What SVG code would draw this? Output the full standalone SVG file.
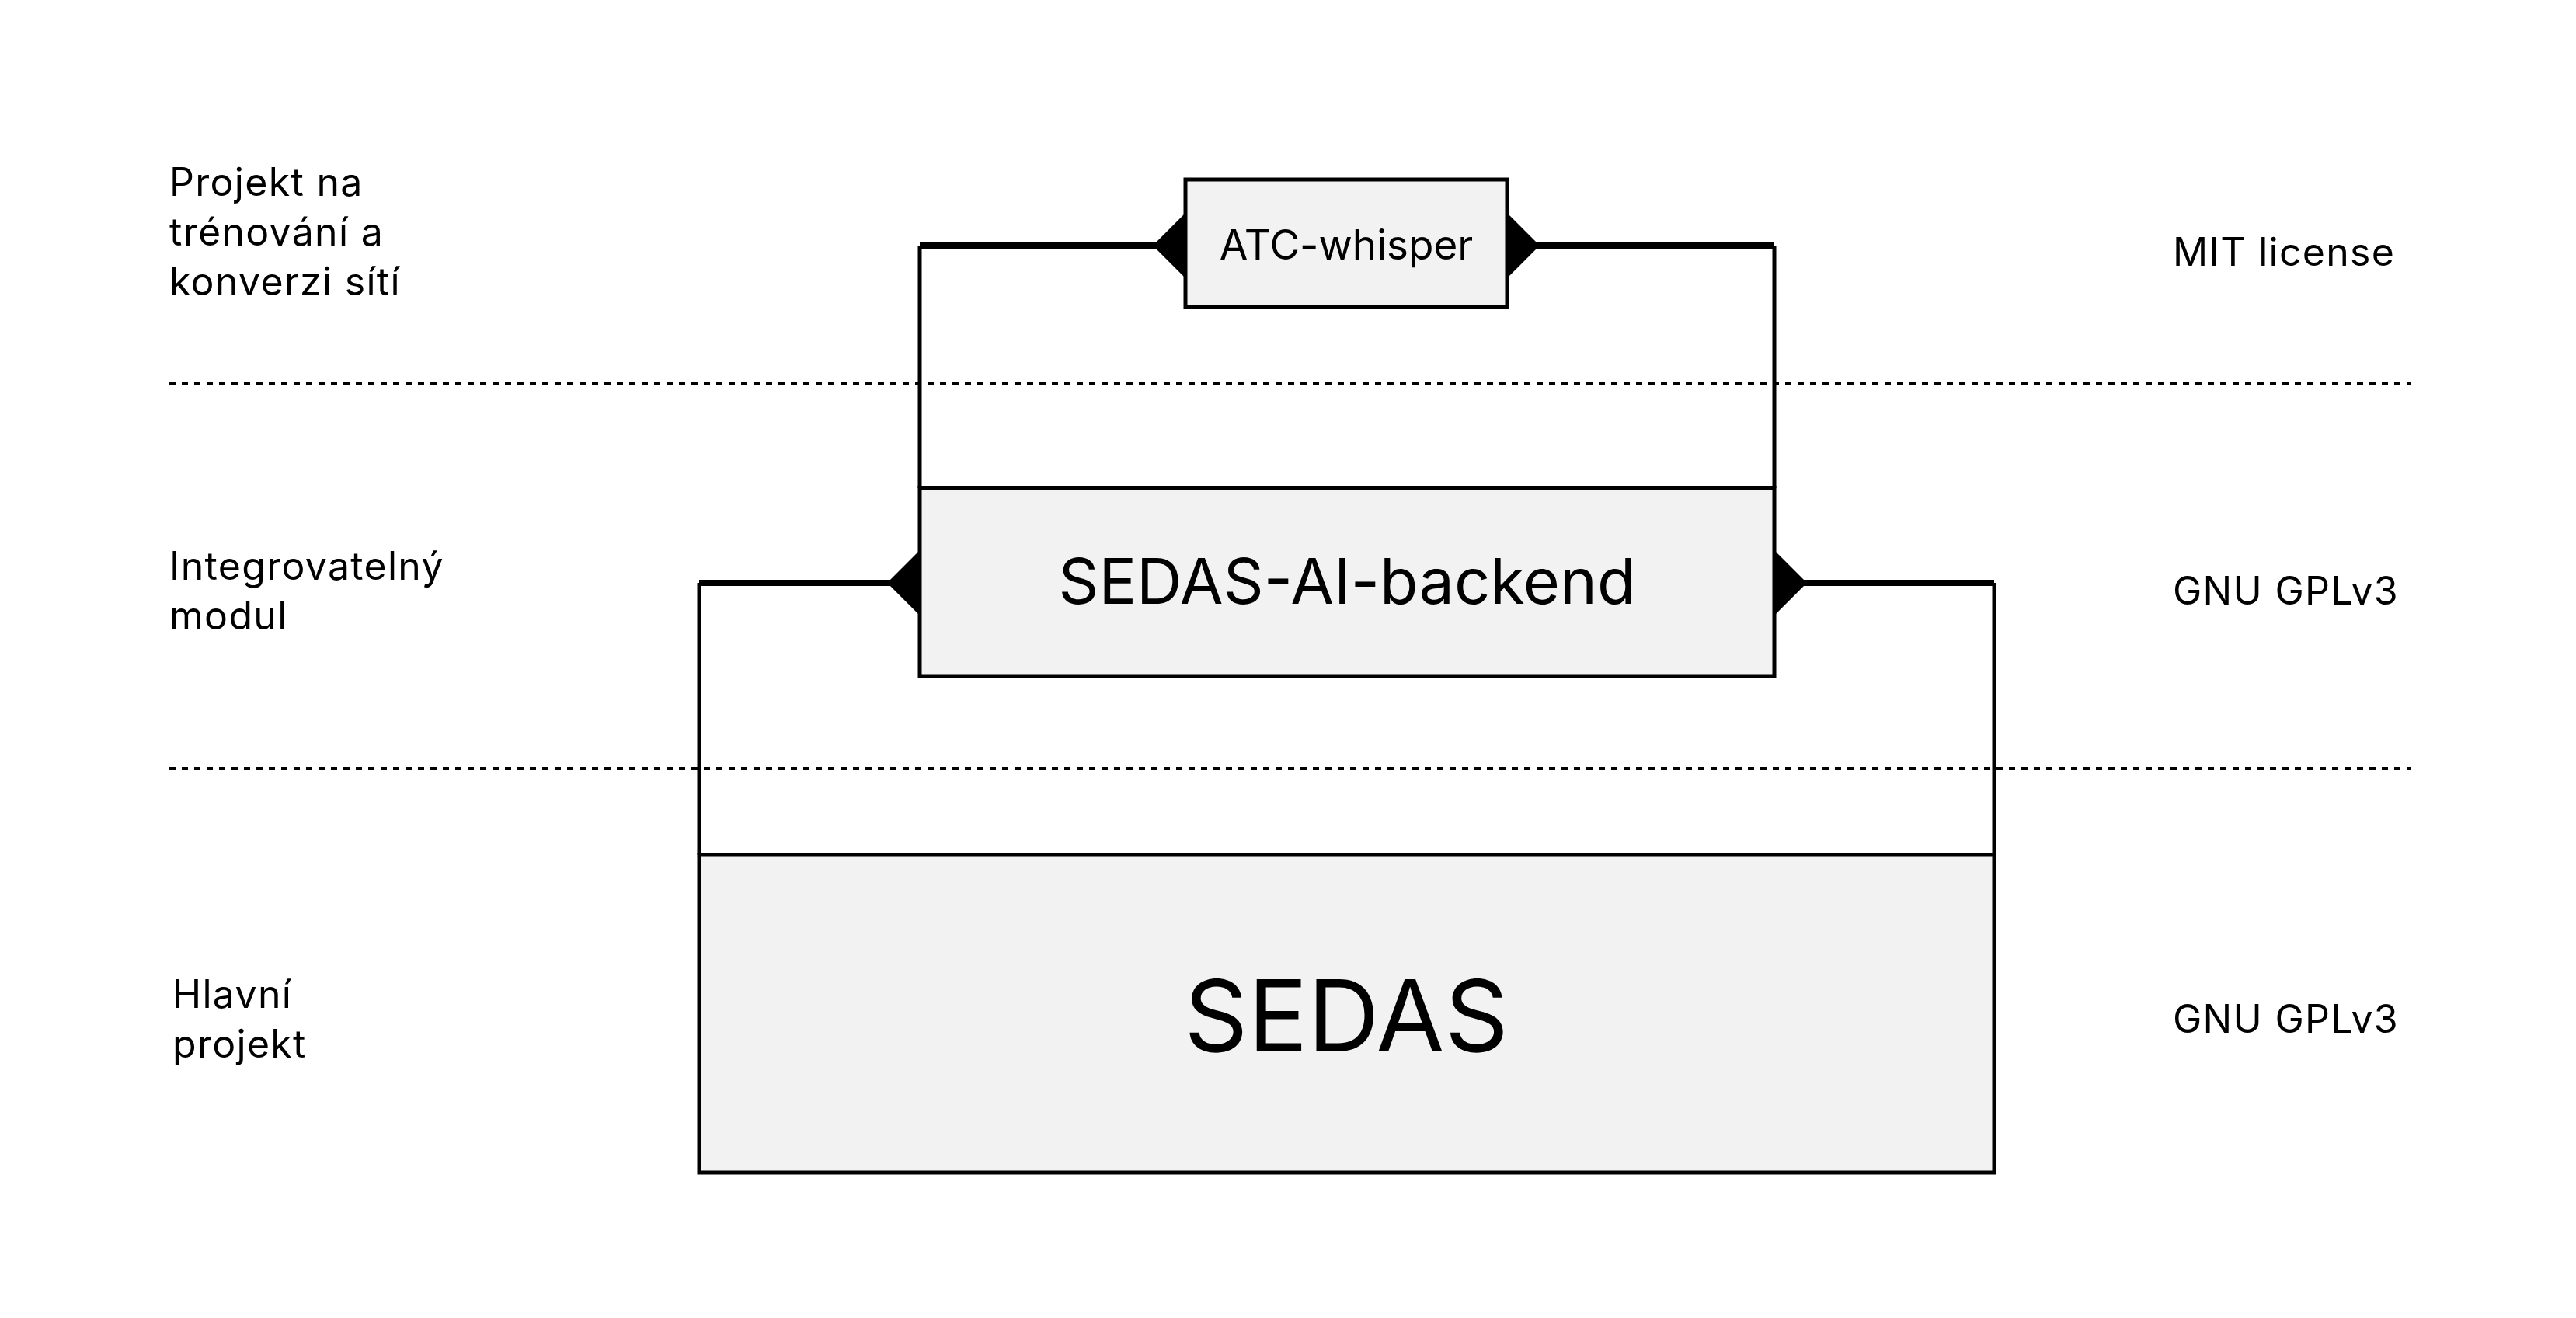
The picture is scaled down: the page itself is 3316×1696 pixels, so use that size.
<svg xmlns="http://www.w3.org/2000/svg" width="3316" height="1696" viewBox="0 0 3316 1696">
<style>
text{font-family:Inter,"Noto Sans","Liberation Sans",sans-serif;fill:#000}
.lbl{font-size:50px;letter-spacing:1.3px}
.box{fill:#f2f2f2;stroke:#000;stroke-width:5}
.c{fill:none;stroke:#000;stroke-width:5}
.t{fill:none;stroke:#000;stroke-width:8}
.dot{stroke:#000;stroke-width:4;stroke-dasharray:8 8}
</style>
<rect width="3316" height="1696" fill="#fff"/>
<g id="dividers">
<line class="dot" x1="218" y1="494" x2="3103" y2="494"/>
<line class="dot" x1="218" y1="989" x2="3103" y2="989"/>
</g>
<g id="labels">
<text class="lbl" x="218" y="252">Projekt na</text>
<text class="lbl" x="218" y="316">trénování a</text>
<text class="lbl" x="218" y="380">konverzi sítí</text>
<text class="lbl" x="218" y="746">Integrovatelný</text>
<text class="lbl" x="218" y="810">modul</text>
<text class="lbl" x="222" y="1297">Hlavní</text>
<text class="lbl" x="222" y="1361">projekt</text>
<text class="lbl" x="2797" y="342">MIT license</text>
<text class="lbl" x="2797" y="778">GNU GPLv3</text>
<text class="lbl" x="2797" y="1329">GNU GPLv3</text>
</g>
<g id="connectors">
<path class="c" d="M1184,316 V628 M2284,316 V628"/>
<path class="t" d="M1184,316 H1526 M1940,316 H2284"/>
<path class="c" d="M900,750 V1100 M2567,750 V1100"/>
<path class="t" d="M900,750 H1184 M2284,750 H2567"/>
</g>
<g id="atc">
<rect class="box" x="1526" y="231" width="414" height="164"/>
<text x="1733" y="334" font-size="53" text-anchor="middle">ATC-whisper</text>
</g>
<g id="backend">
<rect class="box" x="1184" y="628" width="1100" height="242"/>
<text x="1734" y="777" font-size="81" text-anchor="middle">SEDAS-AI-backend</text>
</g>
<g id="sedas">
<rect class="box" x="900" y="1100" width="1667" height="409"/>
<text x="1733" y="1353" font-size="128" text-anchor="middle">SEDAS</text>
</g>
<g id="markers">
<polygon points="1526,274 1484,316 1526,358"/>
<polygon points="1940,274 1982,316 1940,358"/>
<polygon points="1184,708 1142,750 1184,792"/>
<polygon points="2284,708 2326,750 2284,792"/>
</g>
</svg>
